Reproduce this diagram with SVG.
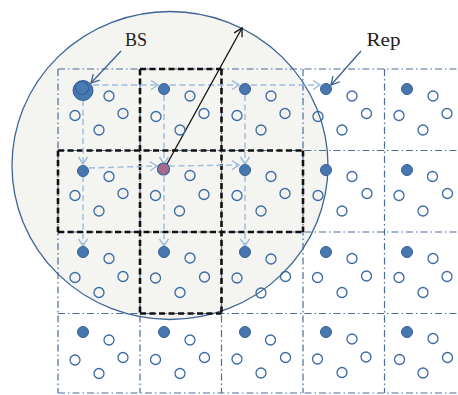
<svg xmlns="http://www.w3.org/2000/svg" width="458" height="395" viewBox="0 0 458 395">
<style>
.grid{stroke:#4a6c98;stroke-width:1.2;fill:none;stroke-dasharray:7 3 1.5 3}
.blk{stroke:#111;stroke-width:2.6;fill:none;stroke-dasharray:6 3.5}
.f{fill:#4877b0;stroke:#345f96;stroke-width:1}
.o{fill:none;stroke:#3a69a3;stroke-width:1.3}
.con{stroke:#9dbbdb;stroke-width:1.4;fill:none;stroke-dasharray:6 3.5}
.lbl{font-family:"Liberation Serif","DejaVu Serif",serif;font-size:19px;fill:#222}
.ptr{stroke:#3d6090;stroke-width:1.3;fill:none}
</style>
<defs>
<marker id="la" markerUnits="userSpaceOnUse" markerWidth="12" markerHeight="12" refX="8" refY="5" orient="auto"><path d="M1,0.5 L8,5 L1,9.5" fill="none" stroke="#9dbbdb" stroke-width="1.4"/></marker>
<marker id="ka" markerUnits="userSpaceOnUse" markerWidth="12" markerHeight="12" refX="9" refY="5" orient="auto"><path d="M1,0.5 L9,5 L1,9.5" fill="none" stroke="#111" stroke-width="1.3"/></marker>
<marker id="ba" markerUnits="userSpaceOnUse" markerWidth="12" markerHeight="12" refX="9" refY="5" orient="auto"><path d="M1,0.5 L9,5 L1,9.5" fill="none" stroke="#3d6090" stroke-width="1.3"/></marker>
</defs>
<rect width="458" height="395" fill="#fff"/>
<ellipse cx="170" cy="165.5" rx="158" ry="154" fill="#f4f4f0" stroke="#3d6494" stroke-width="1.3"/>
<g id="grid">
<path class="grid" d="M58,69H458M58,150.5H458M58,232H458M58,313.5H458M58,393H458"/>
<path class="grid" d="M58,69V393M140,69V393M221.5,69V393M303,69V393M384.5,69V393"/>
</g>
<g id="cluster">
<path class="blk" d="M140,69H221.5M58,150.5H303M58,232H303M140,313.5H221.5M58,150.5V232M140,69V313.5M221.5,69V313.5M303,150.5V232"/>
</g>
<g id="connectors">
<path class="con" marker-end="url(#la)" d="M93,85H158"/>
<path class="con" marker-end="url(#la)" d="M170,85H239"/>
<path class="con" marker-end="url(#la)" d="M251,85H320"/>
<path class="con" marker-end="url(#la)" d="M83,100V164"/>
<path class="con" marker-end="url(#la)" d="M83,176V246"/>
<path class="con" marker-end="url(#la)" d="M164,95V164"/>
<path class="con" marker-end="url(#la)" d="M164,176V246"/>
<path class="con" marker-end="url(#la)" d="M245,95V164"/>
<path class="con" marker-end="url(#la)" d="M245,176V246"/>
<path class="con" marker-end="url(#la)" d="M89,168L157,166"/>
<path class="con" marker-end="url(#la)" d="M169,166L239,165"/>
<path stroke="#111" stroke-width="1.3" fill="none" marker-end="url(#ka)" d="M167,164L242,28"/>
<path class="ptr" marker-end="url(#ba)" d="M121,51L91,83"/>
<path class="ptr" marker-end="url(#ba)" d="M361,51L331,85"/>
</g>
<g id="BS"><circle class="f" cx="83" cy="90.5" r="10"/><circle cx="82" cy="88" r="6.5" fill="#4a7ab3" stroke="#34609a" stroke-width="1.1"/></g>
<g id="n12"><circle class="f" cx="164" cy="89" r="5.5"/></g>
<g id="n13"><circle class="f" cx="245" cy="89" r="5.5"/></g>
<g id="n14"><circle class="f" cx="326" cy="89" r="5.5"/></g>
<g id="n15"><circle class="f" cx="407" cy="89" r="5.5"/></g>
<g id="n21"><circle class="f" cx="83" cy="171" r="5.5"/></g>
<g id="n22"><circle cx="163.5" cy="169" r="6" fill="#a86a8c" stroke="#3a65a0" stroke-width="1.2"/></g>
<g id="n23"><circle class="f" cx="245" cy="170" r="5.5"/></g>
<g id="n24"><circle class="f" cx="326" cy="170" r="5.5"/></g>
<g id="n25"><circle class="f" cx="407" cy="170" r="5.5"/></g>
<g id="n31"><circle class="f" cx="83" cy="252" r="5.5"/></g>
<g id="n32"><circle class="f" cx="164" cy="252" r="5.5"/></g>
<g id="n33"><circle class="f" cx="245" cy="252" r="5.5"/></g>
<g id="n34"><circle class="f" cx="326" cy="252" r="5.5"/></g>
<g id="n35"><circle class="f" cx="407" cy="252" r="5.5"/></g>
<g id="n41"><circle class="f" cx="83" cy="332" r="5.5"/></g>
<g id="n42"><circle class="f" cx="164" cy="332" r="5.5"/></g>
<g id="n43"><circle class="f" cx="245" cy="332" r="5.5"/></g>
<g id="n44"><circle class="f" cx="326" cy="332" r="5.5"/></g>
<g id="n45"><circle class="f" cx="407" cy="332" r="5.5"/></g>
<g id="u1"><circle class="o" cx="109" cy="96" r="5"/><circle class="o" cx="75" cy="115.5" r="5"/><circle class="o" cx="123" cy="113.5" r="5"/><circle class="o" cx="99" cy="130" r="5"/></g>
<g id="u2"><circle class="o" cx="190" cy="96" r="5"/><circle class="o" cx="156" cy="116.5" r="5"/><circle class="o" cx="204" cy="113.5" r="5"/><circle class="o" cx="180" cy="130" r="5"/></g>
<g id="u3"><circle class="o" cx="271" cy="96" r="5"/><circle class="o" cx="237" cy="115.5" r="5"/><circle class="o" cx="285" cy="113.5" r="5"/><circle class="o" cx="261" cy="130" r="5"/></g>
<g id="u4"><circle class="o" cx="352" cy="96" r="5"/><circle class="o" cx="318" cy="116.5" r="5"/><circle class="o" cx="366.5" cy="113.5" r="5"/><circle class="o" cx="342" cy="130" r="5"/></g>
<g id="u5"><circle class="o" cx="433" cy="96" r="5"/><circle class="o" cx="399" cy="115.5" r="5"/><circle class="o" cx="447" cy="113.5" r="5"/><circle class="o" cx="423" cy="130" r="5"/></g>
<g id="u6"><circle class="o" cx="109" cy="176.5" r="5"/><circle class="o" cx="75" cy="195.5" r="5"/><circle class="o" cx="123" cy="193.5" r="5"/><circle class="o" cx="99" cy="211" r="5"/></g>
<g id="u7"><circle class="o" cx="190" cy="175.5" r="5"/><circle class="o" cx="155.5" cy="195.5" r="5"/><circle class="o" cx="204" cy="194.5" r="5"/><circle class="o" cx="179.5" cy="211" r="5"/></g>
<g id="u8"><circle class="o" cx="271" cy="176.5" r="5"/><circle class="o" cx="237" cy="195.5" r="5"/><circle class="o" cx="285" cy="193.5" r="5"/><circle class="o" cx="261" cy="211" r="5"/></g>
<g id="u9"><circle class="o" cx="352" cy="176.5" r="5"/><circle class="o" cx="318" cy="195.5" r="5"/><circle class="o" cx="367" cy="193.5" r="5"/><circle class="o" cx="342" cy="211" r="5"/></g>
<g id="u10"><circle class="o" cx="432.5" cy="176.5" r="5"/><circle class="o" cx="399" cy="195.5" r="5"/><circle class="o" cx="447.5" cy="193.5" r="5"/><circle class="o" cx="423" cy="211" r="5"/></g>
<g id="u11"><circle class="o" cx="109" cy="258.5" r="5"/><circle class="o" cx="75" cy="277.5" r="5"/><circle class="o" cx="123" cy="276.5" r="5"/><circle class="o" cx="99" cy="292.5" r="5"/></g>
<g id="u12"><circle class="o" cx="190" cy="258" r="5"/><circle class="o" cx="155.5" cy="278" r="5"/><circle class="o" cx="204.5" cy="277" r="5"/><circle class="o" cx="180" cy="292.5" r="5"/></g>
<g id="u13"><circle class="o" cx="271" cy="259" r="5"/><circle class="o" cx="237" cy="278" r="5"/><circle class="o" cx="285.5" cy="276.5" r="5"/><circle class="o" cx="261" cy="293" r="5"/></g>
<g id="u14"><circle class="o" cx="352" cy="258.5" r="5"/><circle class="o" cx="317.5" cy="277.5" r="5"/><circle class="o" cx="366.5" cy="276" r="5"/><circle class="o" cx="342" cy="292.5" r="5"/></g>
<g id="u15"><circle class="o" cx="433" cy="258.5" r="5"/><circle class="o" cx="399" cy="277.5" r="5"/><circle class="o" cx="447" cy="276.5" r="5"/><circle class="o" cx="423" cy="292.5" r="5"/></g>
<g id="u16"><circle class="o" cx="109" cy="340" r="5"/><circle class="o" cx="75" cy="360" r="5"/><circle class="o" cx="123" cy="357.5" r="5"/><circle class="o" cx="99" cy="373.5" r="5"/></g>
<g id="u17"><circle class="o" cx="190" cy="340" r="5"/><circle class="o" cx="155.5" cy="359.5" r="5"/><circle class="o" cx="204.5" cy="357.5" r="5"/><circle class="o" cx="180" cy="373.5" r="5"/></g>
<g id="u18"><circle class="o" cx="270.5" cy="340" r="5"/><circle class="o" cx="237" cy="359" r="5"/><circle class="o" cx="285.5" cy="357.5" r="5"/><circle class="o" cx="261" cy="373" r="5"/></g>
<g id="u19"><circle class="o" cx="352" cy="339" r="5"/><circle class="o" cx="317.5" cy="359" r="5"/><circle class="o" cx="366" cy="357" r="5"/><circle class="o" cx="342" cy="372.5" r="5"/></g>
<g id="u20"><circle class="o" cx="433" cy="338.5" r="5"/><circle class="o" cx="399.5" cy="359.5" r="5"/><circle class="o" cx="447.5" cy="357.5" r="5"/><circle class="o" cx="423" cy="373" r="5"/></g>
<g id="labels">
<text class="lbl" x="125" y="46" textLength="22" lengthAdjust="spacingAndGlyphs">BS</text>
<text class="lbl" x="366.5" y="46" textLength="34" lengthAdjust="spacingAndGlyphs">Rep</text>
</g>
</svg>
